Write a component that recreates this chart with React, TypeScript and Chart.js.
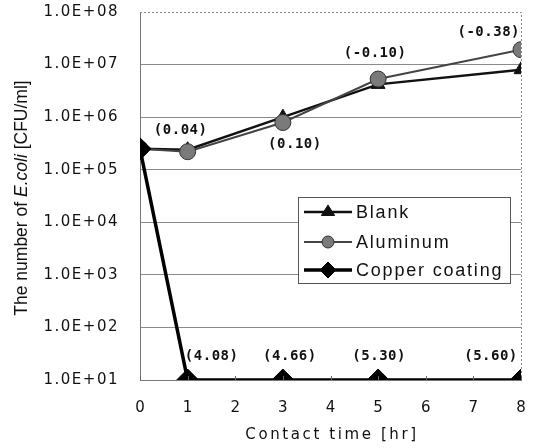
import React, { useEffect, useRef } from 'react';
import { Chart, registerables } from 'chart.js';

Chart.register(...registerables);

// ---- data ----
const contactTimes = [0, 1, 3, 5, 8];
const blankCounts = [2.5e5, 2.4e5, 1.0e6, 4.2e6, 8.0e6];
const aluminumCounts = [2.5e5, 2.2e5, 7.9e5, 5.3e6, 1.92e7];
const copperCounts = [2.5e5, 10, 10, 10, 10];
const aluminumReductionLabels = ['', '(0.04)', '(0.10)', '(-0.10)', '(-0.38)'];
const copperReductionLabels = ['', '(4.08)', '(4.66)', '(5.30)', '(5.60)'];
const seriesNames = ['Blank', 'Aluminum', 'Copper coating'];
const xTickValues = [0, 1, 2, 3, 4, 5, 6, 7, 8];
const yTickExponents = [1, 2, 3, 4, 5, 6, 7, 8];
const xAxisTitle = 'Contact time [hr]';
const yAxisTitleParts = ['The number of ', 'E.coli', ' [CFU/ml]'];

// ---- label placement (style only) ----
const aluminumLabelOffsets = [
  [0, 0, 'center'],
  [-7, -21, 'center'],
  [12, 22, 'center'],
  [-3, -26, 'center'],
  [-1, -17, 'right'],
];
const copperLabelOffsets = [
  [0, 0, 'center'],
  [24, -24, 'center'],
  [7, -24, 'center'],
  [1, -24, 'center'],
  [-30, -24, 'center'],
];

function fmtExp(e: number) {
  return '1.0E+' + (e < 10 ? '0' + e : String(e));
}

function drawMarker(ctx: CanvasRenderingContext2D, style: string, x: number, y: number, r: number, fill: string, stroke: string, bw: number) {
  ctx.save();
  ctx.beginPath();
  if (style === 'triangle') {
    const h = r * 1.5;
    ctx.moveTo(x, y - r);
    ctx.lineTo(x + r * 0.95, y + h - r);
    ctx.lineTo(x - r * 0.95, y + h - r);
    ctx.closePath();
  } else if (style === 'rectRot') {
    ctx.moveTo(x, y - r);
    ctx.lineTo(x + r, y);
    ctx.lineTo(x, y + r);
    ctx.lineTo(x - r, y);
    ctx.closePath();
  } else {
    ctx.arc(x, y, r, 0, Math.PI * 2);
  }
  ctx.fillStyle = fill;
  ctx.fill();
  if (bw > 0) {
    ctx.strokeStyle = stroke;
    ctx.lineWidth = bw;
    ctx.stroke();
  }
  ctx.restore();
}

const decorPlugin = {
  id: 'decor',
  afterDraw(chart: any) {
    const ctx: CanvasRenderingContext2D = chart.ctx;
    const xs = chart.scales.x;
    const ys = chart.scales.y;
    const area = chart.chartArea;
    ctx.save();

    // dotted right / top border
    ctx.strokeStyle = '#888';
    ctx.lineWidth = 1;
    ctx.setLineDash([2, 2]);
    ctx.beginPath();
    ctx.moveTo(area.left, area.top + 0.5);
    ctx.lineTo(area.right + 0.5, area.top + 0.5);
    ctx.lineTo(area.right + 0.5, area.bottom);
    ctx.stroke();
    ctx.setLineDash([]);

    // inward x ticks
    ctx.strokeStyle = '#666';
    ctx.beginPath();
    xTickValues.forEach((v) => {
      const px = Math.round(xs.getPixelForValue(v)) + 0.5;
      ctx.moveTo(px, area.bottom);
      ctx.lineTo(px, area.bottom - 4);
    });
    ctx.stroke();

    // y tick labels
    ctx.fillStyle = '#111';
    ctx.font = '15px "DejaVu Sans"';
    (ctx as any).letterSpacing = '1.5px';
    ctx.textAlign = 'right';
    ctx.textBaseline = 'middle';
    yTickExponents.forEach((e) => {
      ctx.fillText(fmtExp(e), 119, ys.getPixelForValue(Math.pow(10, e)));
    });

    // x tick labels
    (ctx as any).letterSpacing = '0px';
    ctx.textAlign = 'center';
    xTickValues.forEach((v) => {
      ctx.fillText(String(v), xs.getPixelForValue(v), 408);
    });

    // x title
    ctx.font = '15px "DejaVu Sans"';
    (ctx as any).letterSpacing = '2.6px';
    ctx.textAlign = 'center';
    ctx.fillText(xAxisTitle, 332, 435);

    // y title (rotated, mixed italic)
    (ctx as any).letterSpacing = '0px';
    ctx.save();
    ctx.translate(22, 198);
    ctx.rotate(-Math.PI / 2);
    const fonts = ['17.5px "Liberation Sans"', 'italic 17.5px "Liberation Sans"', '17.5px "Liberation Sans"'];
    let total = 0;
    const widths = yAxisTitleParts.map((p, i) => {
      ctx.font = fonts[i];
      const w = ctx.measureText(p).width;
      total += w;
      return w;
    });
    let cx = -total / 2;
    ctx.textAlign = 'left';
    yAxisTitleParts.forEach((p, i) => {
      ctx.font = fonts[i];
      ctx.fillText(p, cx, 0);
      cx += widths[i];
    });
    ctx.restore();

    // data labels
    ctx.font = 'bold 14px "DejaVu Sans Mono"';
    (ctx as any).letterSpacing = '0.5px';
    ctx.fillStyle = '#111';
    ctx.textBaseline = 'middle';
    const drawLabels = (labels: string[], values: number[], offs: any[]) => {
      labels.forEach((t, i) => {
        if (!t) return;
        const px = xs.getPixelForValue(contactTimes[i]);
        const py = ys.getPixelForValue(values[i]);
        const [dx, dy, al] = offs[i];
        ctx.textAlign = al;
        ctx.fillText(t, px + dx, py + dy);
      });
    };
    drawLabels(aluminumReductionLabels, aluminumCounts, aluminumLabelOffsets);
    drawLabels(copperReductionLabels, copperCounts, copperLabelOffsets);

    // legend box
    const lx = 298, ly = 197, lw = 212, lh = 86;
    ctx.fillStyle = '#fff';
    ctx.fillRect(lx, ly, lw, lh);
    ctx.strokeStyle = '#555';
    ctx.lineWidth = 1;
    ctx.strokeRect(lx + 0.5, ly + 0.5, lw, lh);
    const rowsY = [212, 242, 270];
    chart.data.datasets.forEach((ds: any, i: number) => {
      const y = rowsY[i];
      ctx.strokeStyle = ds.borderColor;
      ctx.lineWidth = ds.borderWidth;
      ctx.beginPath();
      ctx.moveTo(304, y);
      ctx.lineTo(352, y);
      ctx.stroke();
      const r = ds.pointStyle === 'rectRot' ? 8 : ds.pointStyle === 'triangle' ? 7 : 6;
      drawMarker(ctx, ds.pointStyle, 328, y, r, ds.pointBackgroundColor, ds.pointBorderColor, ds.pointBorderWidth);
      ctx.fillStyle = '#111';
      ctx.font = '18px "Liberation Sans"';
      (ctx as any).letterSpacing = '1.8px';
      ctx.textAlign = 'left';
      ctx.textBaseline = 'middle';
      ctx.fillText(seriesNames[i], 356, y + 1);
    });
    (ctx as any).letterSpacing = '0px';
    ctx.restore();
  },
};

export default function App() {
  const ref = useRef<HTMLCanvasElement>(null);
  useEffect(() => {
    if (!ref.current) return;
    const mk = (vals: number[]) => contactTimes.map((t, i) => ({ x: t, y: vals[i] }));
    const chart = new Chart(ref.current, {
      type: 'line',
      data: {
        datasets: [
          {
            label: seriesNames[0],
            data: mk(blankCounts),
            borderColor: '#111',
            borderWidth: 2.5,
            pointStyle: 'triangle',
            pointRadius: 8,
            pointBackgroundColor: '#111',
            pointBorderColor: '#111',
            pointBorderWidth: 1,
            order: 2,
          },
          {
            label: seriesNames[1],
            data: mk(aluminumCounts),
            borderColor: '#444',
            borderWidth: 2,
            pointStyle: 'circle',
            pointRadius: 8,
            pointBackgroundColor: '#7a7a7a',
            pointBorderColor: '#333',
            pointBorderWidth: 1,
            order: 1,
          },
          {
            label: seriesNames[2],
            data: mk(copperCounts),
            borderColor: '#000',
            borderWidth: 3.5,
            pointStyle: 'rectRot',
            pointRadius: 11,
            pointBackgroundColor: '#000',
            pointBorderColor: '#000',
            pointBorderWidth: 1,
            order: 0,
          },
        ],
      },
      options: {
        responsive: false,
        animation: false,
        devicePixelRatio: 1,
        layout: { padding: { top: 11, right: 16, left: 0, bottom: 0 } },
        plugins: { legend: { display: false }, tooltip: { enabled: false } },
        elements: { line: { tension: 0 } },
        scales: {
          x: {
            type: 'linear',
            min: 0,
            max: 8,
            ticks: { display: false, stepSize: 1 },
            grid: { display: false },
            border: { display: true, color: '#777', width: 1 },
            afterFit: (s: any) => { s.height = 68; },
          },
          y: {
            type: 'logarithmic',
            min: 10,
            max: 1e8,
            ticks: { display: false },
            afterBuildTicks: (s: any) => {
              s.ticks = yTickExponents.map((e) => ({ value: Math.pow(10, e) }));
            },
            grid: {
              drawTicks: false,
              color: (c: any) => (c.tick && c.tick.value >= 1e8 ? 'rgba(0,0,0,0)' : '#8a8a8a'),
            },
            border: { display: true, color: '#777', width: 1 },
            afterFit: (s: any) => { s.width = 140; },
          },
        },
      } as any,
      plugins: [decorPlugin],
    });
    return () => chart.destroy();
  }, []);
  return (
    <div style={{ position: 'absolute', left: 0, top: 0, width: 537, height: 448, background: '#fff' }}>
      <canvas ref={ref} width={537} height={448} />
    </div>
  );
}
